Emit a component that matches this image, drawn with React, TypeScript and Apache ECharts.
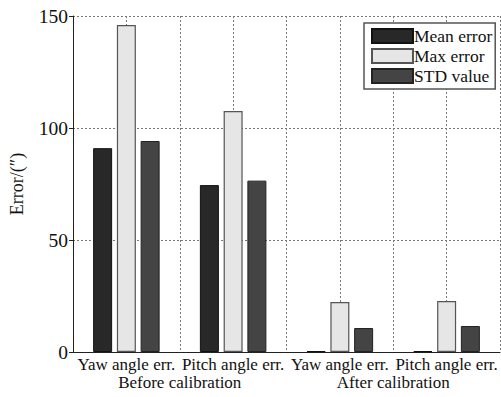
import React, { useEffect, useRef } from "react";
import * as echarts from "echarts";

const categories = ["Yaw angle err.", "Pitch angle err.", "Yaw angle err.", "Pitch angle err."];
const groups = ["Before calibration", "After calibration"];
const meanError = [91, 74.5, 0.4, 0.4];
const maxError = [146, 107.6, 22.3, 22.8];
const stdValue = [94.2, 76.5, 10.7, 11.6];
const yTicks = [0, 50, 100, 150];

const FONT = "Liberation Serif";

export default function App() {
  const ref = useRef<HTMLDivElement>(null);
  useEffect(() => {
    const chart = echarts.init(ref.current!, undefined, { renderer: "svg" });
    const grid = { color: "#777", type: [2, 2] as any, width: 1 };
    chart.setOption({
      animation: false,
      backgroundColor: "#fff",
      grid: { left: 73, top: 16, right: 1, bottom: 45, containLabel: false },
      legend: {
        left: 364,
        top: 23,
        orient: "vertical",
        icon: "rect",
        itemWidth: 41,
        itemHeight: 14,
        itemGap: 2,
        padding: [4, 3, 4, 7],
        borderColor: "#555",
        borderWidth: 1.5,
        backgroundColor: "#fff",
        textStyle: { fontFamily: FONT, fontSize: 17.5, color: "#111", padding: [0, 0, 0, -4] },
        data: ["Mean error", "Max error", "STD value"],
      },
      xAxis: [
        {
          type: "category",
          data: categories,
          position: "bottom",
          axisLine: { show: true, lineStyle: { color: "#222", width: 1 } },
          axisTick: { show: false },
          splitLine: { show: false },
          axisLabel: { fontFamily: FONT, fontSize: 17, color: "#111", margin: 4, interval: 0 },
        },
        {
          type: "value",
          min: 0.5,
          max: 4.5,
          interval: 0.5,
          position: "bottom",
          axisLine: { show: false },
          axisTick: { show: false },
          axisLabel: { show: false },
          splitLine: { show: true, lineStyle: grid },
        },
        {
          type: "category",
          data: groups,
          position: "bottom",
          offset: 18,
          axisLine: { show: false },
          axisTick: { show: false },
          splitLine: { show: false },
          axisLabel: { fontFamily: FONT, fontSize: 17, color: "#111", margin: 4, interval: 0 },
        },
      ],
      yAxis: {
        type: "value",
        min: 0,
        max: 150,
        interval: 50,
        name: "Error/(″)",
        nameLocation: "middle",
        nameGap: 47,
        nameTextStyle: { fontFamily: FONT, fontSize: 18, color: "#111" },
        axisLine: { show: true, lineStyle: { color: "#222", width: 1 } },
        axisTick: { show: true, length: 4, lineStyle: { color: "#222" } },
        axisLabel: { fontFamily: FONT, fontSize: 19.5, color: "#111", margin: 5 },
        splitLine: { show: true, lineStyle: grid },
      },
      series: [
        {
          name: "Mean error",
          type: "bar",
          data: meanError,
          barWidth: 19,
          barGap: "25%",
          itemStyle: { color: "#282828", borderColor: "#111", borderWidth: 1 },
        },
        {
          name: "Max error",
          type: "bar",
          data: maxError,
          barWidth: 19,
          barGap: "25%",
          itemStyle: { color: "#e6e6e6", borderColor: "#555", borderWidth: 1.2 },
        },
        {
          name: "STD value",
          type: "bar",
          data: stdValue,
          barWidth: 19,
          barGap: "25%",
          itemStyle: { color: "#444444", borderColor: "#222", borderWidth: 1 },
        },
      ],
    });
    return () => chart.dispose();
  }, []);
  return (
    <div
      ref={ref}
      style={{ position: "fixed", left: 0, top: 0, width: 501, height: 397, background: "#fff" }}
    />
  );
}
